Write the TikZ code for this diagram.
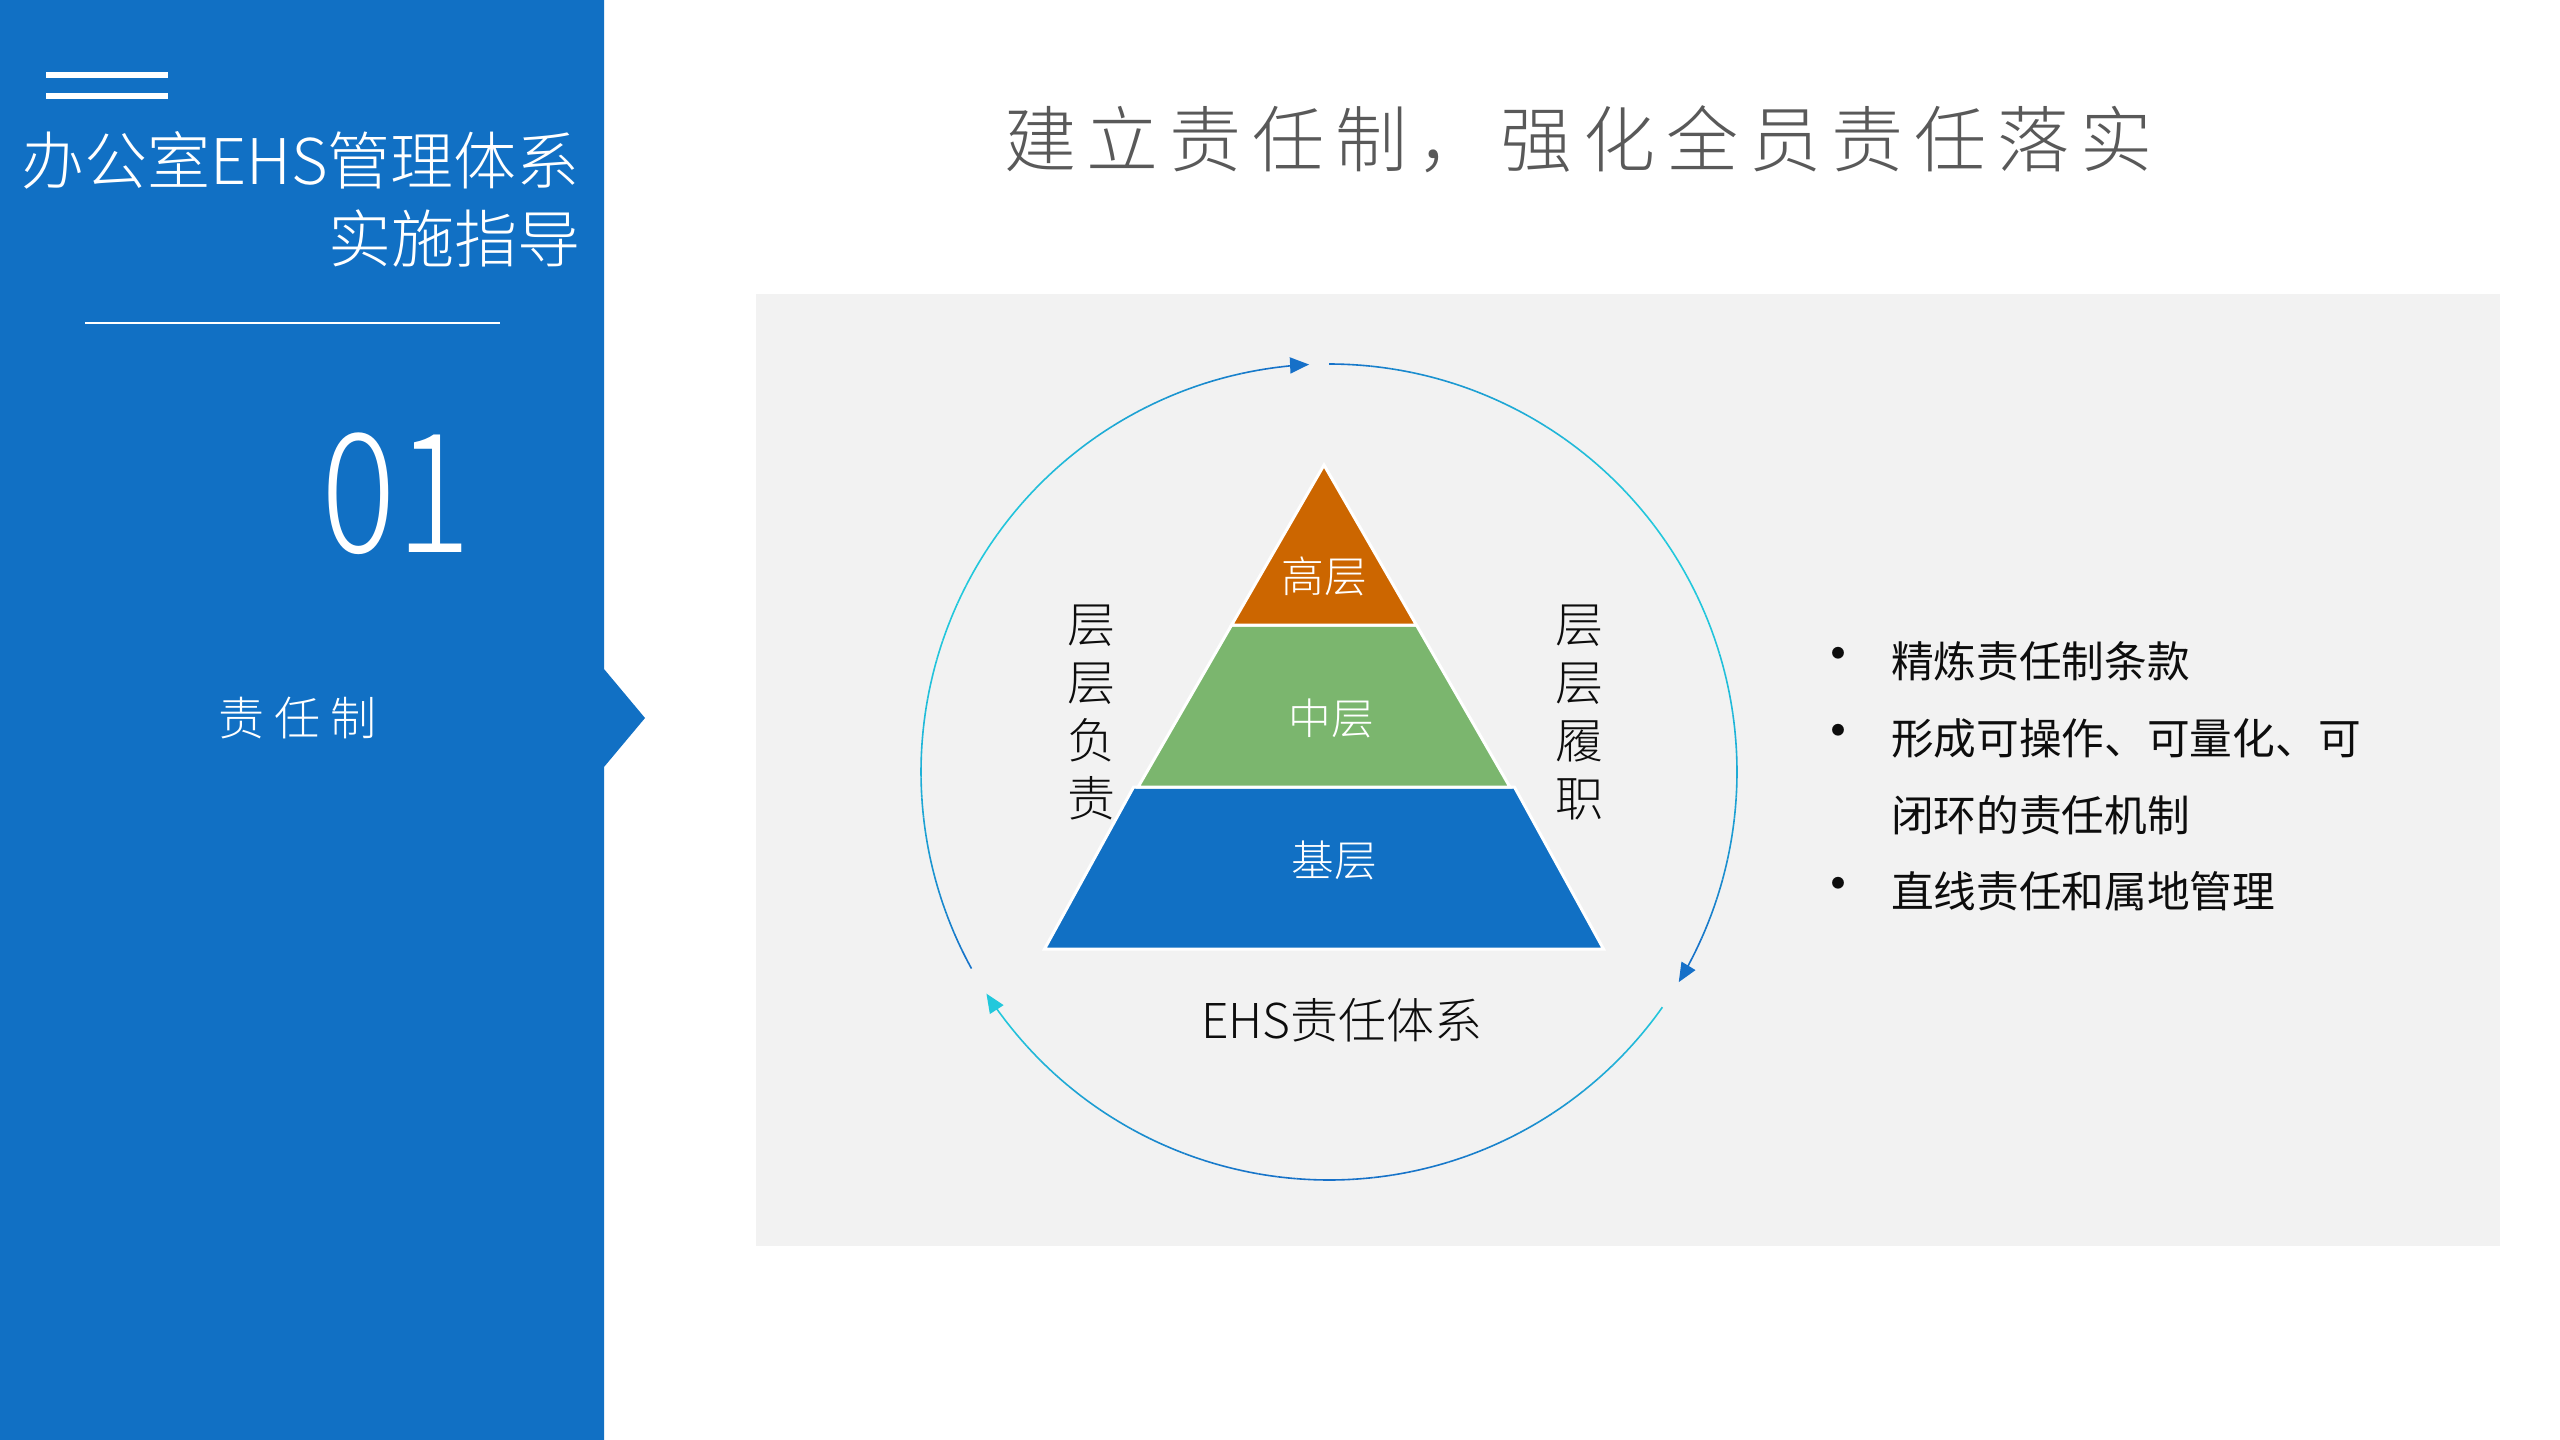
\documentclass[tikz,border=0pt]{standalone}
\usepackage{fontspec}
\setmainfont{Noto Sans CJK SC}
\newfontfamily\lightf{Noto Sans CJK SC Light}
\usetikzlibrary{arrows.meta}
\definecolor{bluep}{RGB}{17,112,196}
\definecolor{arcblue}{RGB}{22,112,200}
\definecolor{arccyan}{RGB}{34,200,220}
\definecolor{orangep}{RGB}{204,102,0}
\definecolor{greenp}{RGB}{123,182,110}
\definecolor{panelgray}{RGB}{242,242,242}
\definecolor{titlegray}{RGB}{89,89,89}
\definecolor{darktext}{RGB}{13,13,13}
\newcommand{\fsz}[2]{\fontsize{#1}{#2}\selectfont}
\newcommand{\gradarc}[4]{%
  \foreach \i in {1,...,40}{%
    \pgfmathsetmacro\aa{#1+(#2-#1)*(\i-1)/40}%
    \pgfmathsetmacro\ab{#1+(#2-#1)*\i/40}%
    \pgfmathsetmacro\mx{abs(#3*100-100*sin(180*(\i-0.5)/40))}%
    \draw[arcline, color=arccyan!\mx!arcblue] ({1329+408*cos(\aa)},{-772+408*sin(\aa)}) arc[start angle=\aa, end angle=\ab, radius=408];
  }%
  \draw[arcline, color=#4, -{Triangle[length=19pt,width=16pt]}] ({1329+408*cos(#2)},{-772+408*sin(#2)}) arc[start angle=#2, end angle=#2-4, radius=408];
}
\begin{document}
\begin{tikzpicture}[x=1pt,y=1pt,
  txt/.style={inner sep=0pt, outer sep=0pt},
  arcline/.style={line width=1.6pt},
  tier/.style={draw=white, line width=3pt, line join=miter}]
\useasboundingbox (0,0) rectangle (2560,-1440);
\fill[white] (0,0) rectangle (2560,-1440);

% left panel with notch
\fill[bluep] (0,0) -- (604,0) -- (604,-669) -- (645,-718) -- (604,-767) -- (604,-1440) -- (0,-1440) -- cycle;
\fill[white] (46,-72) rectangle (168,-78);
\fill[white] (46,-93) rectangle (168,-99);
\node[txt, anchor=east, text=white, font=\lightf\fsz{63}{78}] (t1) at (580,-160) {办公室EHS管理体系};
\node[txt, anchor=east, text=white, font=\lightf\fsz{63}{78}] (t2) at (580,-238) {实施指导};
\draw[white, line width=1.2pt] (85,-323) -- (500,-323);
\node[txt, text=white, font=\lightf\fsz{166}{190}] (num) at (396,-494) {\scalebox{0.84}[1]{01}};
\node[txt, anchor=west, text=white, font=\lightf\fsz{46}{56}] (sec) at (218,-718) {\addfontfeatures{LetterSpace=22}责任制};

% main title
\node[txt, anchor=west, text=titlegray, font=\lightf\fsz{72}{86}] (title) at (1004,-139) {\addfontfeatures{LetterSpace=15}建立责任制，强化全员责任落实};

% gray panel
\fill[panelgray] (756,-294) rectangle (2500,-1246);

% arcs
\gradarc{208.8}{96.8}{0}{arcblue}
\gradarc{90}{-27}{0}{arcblue}
\gradarc{-35.2}{-143.1}{1}{arccyan}

% pyramid
\filldraw[tier, fill=bluep] (1133.6,-787) -- (1514.4,-787) -- (1603.5,-949) -- (1044.5,-949) -- cycle;
\filldraw[tier, fill=greenp] (1231.6,-625) -- (1416.4,-625) -- (1509.9,-787) -- (1138.1,-787) -- cycle;
\filldraw[tier, fill=orangep] (1324,-465) -- (1416.4,-625) -- (1231.6,-625) -- cycle;
\node[txt, text=white, font=\lightf\fsz{42.7}{52}] (top) at (1324,-576) {高层};
\node[txt, text=white, font=\lightf\fsz{42.7}{52}] (mid) at (1331,-718) {中层};
\node[txt, text=white, font=\lightf\fsz{42.7}{52}] (base) at (1334,-860) {基层};

\node[txt, align=center, text=darktext, font=\lightf\fsz{48}{58}] (left) at (1091,-712) {层\\层\\负\\责};
\node[txt, align=center, text=darktext, font=\lightf\fsz{48}{58}] (right) at (1579,-712) {层\\层\\履\\职};
\node[txt, text=darktext, font=\lightf\fsz{48}{58}] (ehs) at (1342,-1020) {EHS责任体系};

% bullets
\node[txt, text=darktext, font=\fsz{56}{56}] (b1) at (1838,-661) {•};
\node[txt, text=darktext, font=\fsz{56}{56}] (b2) at (1838,-738) {•};
\node[txt, text=darktext, font=\fsz{56}{56}] (b3) at (1838,-891) {•};
\node[txt, anchor=west, text=darktext, font=\fsz{42.7}{52}] (l1) at (1891,-661) {精炼责任制条款};
\node[txt, anchor=west, text=darktext, font=\fsz{42.7}{52}] (l2) at (1891,-738) {形成可操作、可量化、可};
\node[txt, anchor=west, text=darktext, font=\fsz{42.7}{52}] (l3) at (1891,-815) {闭环的责任机制};
\node[txt, anchor=west, text=darktext, font=\fsz{42.7}{52}] (l4) at (1891,-891) {直线责任和属地管理};
\end{tikzpicture}
\end{document}
